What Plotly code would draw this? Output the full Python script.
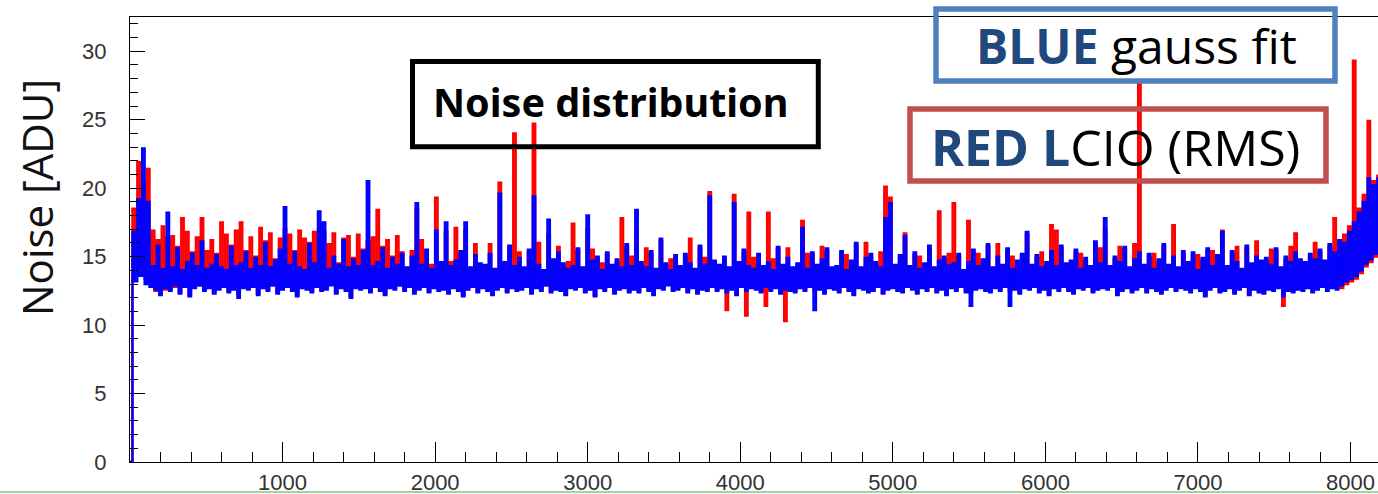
import plotly.graph_objects as go

# ---------------- data ----------------
# one value every 16 channels, 512 points per series (channel 0 .. 8176)
CH_STEP = 16

blue_gauss = [
    0, 16.8, 13.2, 19.2, 13.6, 22.9, 13.0, 19.0, 12.8, 14.3, 12.6, 15.8, 12.2, 14.1, 12.7, 18.2,
    12.5, 14.2, 12.9, 15.6, 12.3, 14.0, 12.8, 14.6, 12.1, 15.2, 12.7, 14.3, 12.9, 16.1, 12.5, 14.1,
    12.7, 14.4, 12.3, 15.1, 12.6, 14.2, 12.8, 14.0, 12.4, 15.7, 12.6, 14.3, 12.0, 14.5, 12.7, 15.3,
    12.6, 14.1, 12.8, 14.9, 12.2, 14.3, 12.7, 16.0, 12.5, 14.2, 12.9, 14.7, 12.3, 15.5, 12.6, 18.6,
    12.8, 14.4, 12.5, 15.3, 12.1, 14.2, 12.7, 14.0, 12.6, 15.9, 12.4, 14.5, 12.8, 18.3, 12.5, 17.5,
    12.6, 14.1, 12.9, 15.0, 12.3, 14.4, 12.7, 16.2, 12.5, 14.2, 12.0, 14.8, 12.7, 14.3, 12.6, 15.4,
    12.7, 20.5, 12.4, 14.3, 12.8, 14.6, 12.5, 15.6, 12.2, 14.1, 12.7, 14.9, 12.6, 14.4, 12.9, 15.2,
    12.5, 14.2, 12.8, 15.0, 12.3, 18.9, 12.6, 14.4, 12.8, 15.5, 12.4, 14.1, 12.7, 16.9, 12.5, 14.6,
    12.6, 17.5, 12.3, 14.3, 12.7, 14.7, 12.5, 15.4, 12.1, 17.5, 12.6, 14.2, 12.8, 15.1, 12.4, 14.5,
    12.7, 14.4, 12.5, 15.2, 12.2, 14.1, 12.6, 19.6, 12.8, 14.6, 12.4, 15.8, 12.7, 14.3, 12.5, 14.9,
    12.6, 14.2, 12.8, 15.5, 12.3, 19.4, 12.7, 14.4, 12.5, 14.0, 12.9, 17.7, 12.4, 14.8, 12.6, 15.3,
    12.5, 14.5, 12.2, 14.1, 12.7, 14.3, 12.6, 15.6, 12.8, 14.2, 12.4, 18.0, 12.6, 14.7, 12.1, 15.0,
    12.7, 14.0, 12.5, 15.3, 12.8, 14.4, 12.3, 14.8, 12.6, 14.2, 12.7, 15.9, 12.4, 14.3, 12.6, 18.4,
    12.4, 14.6, 12.8, 14.2, 12.5, 15.4, 12.2, 14.1, 12.7, 16.3, 12.6, 14.5, 12.9, 14.0, 12.5, 15.1,
    12.6, 14.3, 12.8, 15.2, 12.4, 14.5, 12.7, 14.1, 12.3, 15.8, 12.6, 14.4, 12.5, 19.4, 12.8, 14.7,
    12.5, 14.4, 12.7, 15.0, 12.4, 14.2, 12.6, 18.9, 12.2, 14.6, 12.8, 15.5, 12.5, 14.3, 12.7, 14.1,
    12.6, 15.2, 12.4, 14.3, 12.8, 14.6, 12.5, 14.0, 12.7, 15.7, 12.3, 14.4, 12.6, 14.9, 12.5, 14.2,
    12.4, 14.5, 12.7, 17.1, 12.5, 14.1, 12.8, 15.3, 11.1, 14.4, 12.6, 14.8, 12.3, 15.6, 12.7, 14.2,
    12.6, 14.3, 12.4, 15.4, 12.8, 14.0, 12.5, 14.7, 12.2, 16.0, 12.7, 14.2, 12.6, 14.9, 12.4, 15.2,
    12.5, 14.6, 12.8, 14.2, 12.3, 17.8, 12.6, 18.9, 12.7, 14.4, 12.5, 15.1, 12.4, 16.5, 12.8, 14.3,
    12.6, 15.3, 12.3, 14.1, 12.7, 14.5, 12.5, 15.8, 12.8, 14.2, 12.4, 14.7, 12.6, 15.0, 12.2, 14.4,
    12.7, 14.5, 12.5, 15.2, 12.8, 14.0, 12.4, 14.6, 11.4, 15.5, 12.6, 14.3, 12.7, 14.8, 12.5, 15.9,
    12.4, 14.2, 12.7, 15.0, 12.5, 14.4, 12.8, 15.6, 11.4, 14.1, 12.6, 14.7, 12.3, 15.2, 12.7, 16.8,
    12.6, 14.4, 12.8, 15.1, 12.4, 14.2, 12.6, 14.6, 12.2, 15.4, 12.7, 14.3, 12.5, 15.8, 12.8, 14.5,
    12.5, 14.7, 12.3, 15.5, 12.7, 14.1, 12.6, 14.9, 12.8, 14.3, 12.4, 16.1, 12.6, 14.5, 12.7, 17.8,
    12.6, 14.3, 12.8, 15.0, 12.2, 14.6, 12.5, 15.7, 12.7, 14.2, 12.4, 14.8, 12.6, 15.3, 12.8, 14.4,
    12.4, 15.2, 12.7, 14.1, 12.5, 14.8, 12.3, 15.9, 12.6, 14.4, 12.8, 15.0, 12.5, 14.2, 12.7, 15.4,
    12.6, 14.6, 12.4, 15.3, 12.7, 14.0, 12.5, 14.9, 12.1, 15.6, 12.6, 14.3, 12.8, 15.1, 12.4, 16.8,
    12.5, 14.3, 12.7, 15.4, 12.3, 14.6, 12.6, 14.1, 12.8, 15.8, 12.2, 14.5, 12.6, 15.0, 12.4, 14.7,
    12.3, 14.9, 12.6, 14.4, 12.5, 15.6, 12.7, 14.2, 12.1, 15.0, 12.5, 14.6, 12.4, 15.3, 12.6, 14.8,
    12.5, 14.6, 12.7, 15.2, 12.4, 14.8, 12.6, 15.5, 12.8, 14.7, 12.5, 15.9, 12.7, 15.3, 12.6, 16.2,
    12.9, 16.0, 13.2, 16.8, 13.4, 17.5, 13.6, 18.2, 14.0, 19.0, 14.5, 20.7, 14.8, 20.2, 15.2, 20.8,
]

red_lcio_rms = [
    0, 18.5, 13.6, 21.9, 14.2, 20.5, 13.4, 21.4, 13.1, 16.9, 12.5, 16.2, 12.3, 17.2, 12.6, 16.4,
    12.6, 16.5, 12.8, 15.7, 12.4, 17.8, 12.9, 16.8, 12.2, 15.3, 12.8, 16.4, 12.9, 17.8, 12.6, 15.4,
    12.8, 16.2, 12.4, 15.2, 12.7, 17.5, 12.9, 16.6, 12.5, 15.8, 12.7, 16.9, 12.3, 17.5, 12.8, 15.4,
    12.7, 16.4, 12.9, 15.0, 12.3, 17.1, 12.8, 16.1, 12.6, 16.7, 12.9, 14.8, 12.4, 16.3, 12.7, 17.0,
    12.9, 16.6, 12.6, 15.4, 12.2, 16.9, 12.8, 16.3, 12.7, 16.0, 12.5, 16.8, 12.9, 17.0, 12.6, 16.8,
    12.7, 15.9, 13.0, 16.7, 12.4, 14.5, 12.8, 16.3, 12.6, 16.5, 12.1, 14.9, 12.8, 16.6, 12.7, 15.5,
    12.8, 16.1, 12.5, 16.4, 12.9, 18.4, 12.6, 15.7, 12.3, 16.2, 12.8, 15.0, 12.7, 16.5, 12.9, 15.3,
    12.6, 14.0, 12.9, 15.4, 12.4, 18.4, 12.7, 16.2, 12.9, 15.3, 12.5, 14.4, 12.8, 19.3, 12.6, 14.5,
    12.7, 16.8, 12.4, 14.6, 12.8, 17.1, 12.6, 15.2, 12.2, 16.9, 12.7, 14.0, 12.9, 15.9, 12.5, 14.3,
    12.8, 14.2, 12.6, 15.9, 12.3, 14.0, 12.7, 20.4, 12.9, 14.4, 12.5, 15.6, 12.8, 24.0, 12.6, 15.3,
    12.7, 14.1, 12.9, 15.3, 12.4, 24.7, 12.8, 16.0, 12.6, 13.9, 12.9, 16.6, 12.5, 14.6, 12.7, 15.7,
    12.6, 14.3, 12.3, 14.6, 12.8, 17.4, 12.7, 15.4, 12.9, 14.0, 12.5, 17.0, 12.7, 15.5, 12.2, 14.8,
    12.8, 14.5, 12.6, 15.1, 12.9, 14.2, 12.4, 14.6, 12.7, 17.8, 12.8, 15.7, 12.5, 15.0, 12.7, 16.9,
    12.5, 14.4, 12.9, 15.6, 12.6, 15.2, 12.3, 13.9, 12.8, 16.1, 12.7, 14.3, 13.0, 14.8, 12.6, 14.9,
    12.7, 14.1, 12.9, 15.0, 12.5, 16.3, 12.8, 13.9, 12.4, 15.6, 12.7, 14.9, 12.6, 19.7, 12.9, 14.5,
    12.6, 14.2, 12.8, 14.8, 11.1, 14.0, 12.7, 19.5, 12.3, 14.4, 12.9, 15.3, 10.7, 18.2, 12.8, 14.9,
    12.7, 15.0, 12.5, 14.1, 11.4, 18.2, 12.6, 14.8, 12.8, 15.5, 12.4, 14.2, 10.3, 15.6, 12.6, 14.0,
    12.5, 14.3, 12.8, 17.6, 12.6, 15.2, 12.9, 15.1, 12.5, 14.2, 12.7, 15.7, 12.4, 15.4, 12.8, 14.0,
    12.7, 14.1, 12.5, 15.2, 12.9, 15.1, 12.6, 14.5, 12.3, 15.8, 12.8, 14.0, 12.7, 16.0, 12.5, 15.0,
    12.6, 14.4, 12.9, 15.3, 12.4, 20.1, 12.7, 19.3, 12.8, 14.2, 12.6, 14.9, 12.5, 16.7, 12.9, 14.1,
    12.7, 15.1, 12.4, 15.0, 12.8, 14.3, 12.6, 15.6, 12.9, 14.0, 12.5, 18.3, 12.7, 14.8, 12.3, 15.2,
    12.8, 18.9, 12.6, 15.0, 12.9, 13.8, 12.5, 17.6, 12.4, 15.3, 12.7, 15.2, 12.8, 14.6, 12.6, 15.7,
    12.5, 14.0, 12.8, 15.9, 12.6, 14.2, 12.9, 15.4, 12.5, 15.0, 12.7, 14.5, 12.4, 15.0, 12.8, 16.6,
    12.7, 14.2, 12.9, 14.9, 12.5, 15.3, 12.7, 14.4, 12.3, 17.3, 12.8, 16.9, 12.6, 15.6, 12.9, 14.3,
    12.6, 14.5, 12.4, 15.3, 12.8, 15.2, 12.7, 14.7, 12.9, 14.1, 12.5, 15.9, 12.7, 15.6, 12.8, 17.0,
    12.7, 14.1, 12.9, 14.8, 12.3, 15.7, 12.6, 15.5, 12.8, 14.0, 12.5, 15.9, 12.7, 27.6, 12.9, 14.2,
    12.5, 15.0, 12.8, 15.2, 12.6, 14.6, 12.4, 15.7, 12.7, 14.2, 12.9, 17.3, 12.6, 14.0, 12.8, 15.2,
    12.7, 14.4, 12.5, 15.1, 12.8, 15.1, 12.6, 14.7, 12.2, 15.4, 12.7, 15.4, 12.9, 14.9, 12.5, 16.9,
    12.6, 14.1, 12.8, 15.2, 12.4, 15.7, 12.7, 13.9, 12.9, 15.6, 12.3, 14.3, 12.7, 16.1, 12.5, 14.5,
    12.4, 14.7, 12.7, 15.5, 12.6, 15.4, 12.8, 14.0, 11.4, 14.8, 12.6, 15.7, 12.5, 16.7, 12.7, 14.6,
    12.6, 14.4, 12.8, 15.0, 12.5, 16.0, 12.7, 15.3, 12.9, 14.5, 12.6, 15.7, 12.8, 17.8, 12.7, 16.0,
    12.7, 16.6, 13.0, 17.2, 13.2, 29.3, 13.4, 18.5, 13.8, 19.5, 14.3, 24.9, 14.6, 20.5, 15.0, 21.0,
]

channels = [i * CH_STEP for i in range(len(blue_gauss))]

x_tick_vals = [1000, 2000, 3000, 4000, 5000, 6000, 7000, 8000]
x_tick_text = ["1000", "2000", "3000", "4000", "5000", "6000", "7000", "8000"]
y_tick_vals = [0, 5, 10, 15, 20, 25, 30]
y_tick_text = ["0", "5", "10", "15", "20", "25", "30"]

# ---------------- figure ----------------
W, H = 1378, 494
L, R, T, B = 130, 0, 17, 32
PW, PH = W - L - R, H - T - B


def px(x):
    return (x - L) / PW


def py(y):
    return (H - B - y) / PH


fig = go.Figure()
fig.add_trace(go.Scatter(x=channels, y=red_lcio_rms, mode="lines",
                         line=dict(color="#ff0000", width=2.4, shape="hv"),
                         showlegend=False, hoverinfo="skip"))
fig.add_trace(go.Scatter(x=channels, y=blue_gauss, mode="lines",
                         line=dict(color="#0000ff", width=2.4, shape="hv"),
                         showlegend=False, hoverinfo="skip"))

tick_font = dict(family="Liberation Sans Narrow, Arial Narrow, Liberation Sans, sans-serif",
                 size=22, color="#333333")

fig.update_xaxes(range=[0, 8180], showgrid=False, zeroline=False,
                 showline=True, linecolor="black", linewidth=1.3, mirror=True,
                 ticks="inside", ticklen=20, tickwidth=1.3, tickcolor="black",
                 tickvals=x_tick_vals, ticktext=x_tick_text, tickfont=tick_font,
                 minor=dict(dtick=200, tick0=0, ticks="inside", ticklen=10,
                            tickwidth=1.3, tickcolor="black"))
fig.update_yaxes(range=[0, 32.5], showgrid=False, zeroline=False,
                 showline=True, linecolor="black", linewidth=1.3,
                 ticks="inside", ticklen=15, tickwidth=1.3, tickcolor="black",
                 tickvals=y_tick_vals, ticktext=y_tick_text, tickfont=tick_font,
                 ticklabelstandoff=18,
                 minor=dict(dtick=1, tick0=0, ticks="inside", ticklen=8,
                            tickwidth=1.3, tickcolor="black"))

shapes = [
    # Noise distribution box
    dict(type="rect", xref="paper", yref="paper",
         x0=px(412.5), x1=px(818.3), y0=py(146.8), y1=py(61.5),
         line=dict(color="black", width=5), layer="above"),
    # BLUE box
    dict(type="rect", xref="paper", yref="paper",
         x0=px(936), x1=px(1335), y0=py(81), y1=py(9),
         line=dict(color="#4f81bd", width=5.5), layer="above"),
    # RED box
    dict(type="rect", xref="paper", yref="paper",
         x0=px(910), x1=px(1326), y0=py(181), y1=py(109),
         line=dict(color="#c0504d", width=5.5), layer="above"),
    # thin green line at the bottom edge
    dict(type="line", xref="paper", yref="paper",
         x0=px(0), x1=px(W), y0=py(492), y1=py(492),
         line=dict(color="#7fc97f", width=1.5), layer="above"),
]

annotations = [
    dict(text="Noise [ADU]", xref="paper", yref="paper", x=px(36), y=py(198),
         textangle=-90, showarrow=False, xanchor="center", yanchor="middle",
         font=dict(family="Open Sans, sans-serif", size=42, color="#111111")),
    dict(text="<b>Noise distribution</b>", xref="paper", yref="paper",
         x=px(610), y=py(102), showarrow=False, xanchor="center", yanchor="middle",
         font=dict(family="Noto Sans, sans-serif", size=39.5, color="black")),
    dict(text="<b><span style='color:#1f497d'>BLUE</span></b> gauss fit",
         xref="paper", yref="paper", x=px(1136), y=py(45.5), showarrow=False,
         xanchor="center", yanchor="middle",
         font=dict(family="Open Sans, sans-serif", size=48, color="black")),
    dict(text="<b><span style='color:#1f497d'>RED L</span></b>CIO (RMS)",
         xref="paper", yref="paper", x=px(1115), y=py(146.5), showarrow=False,
         xanchor="center", yanchor="middle",
         font=dict(family="Open Sans, sans-serif", size=50, color="black")),
]

fig.update_layout(width=W, height=H, margin=dict(l=L, r=R, t=T, b=B, pad=0),
                  paper_bgcolor="white", plot_bgcolor="white",
                  shapes=shapes, annotations=annotations, showlegend=False)

fig.write_html("out.html")
